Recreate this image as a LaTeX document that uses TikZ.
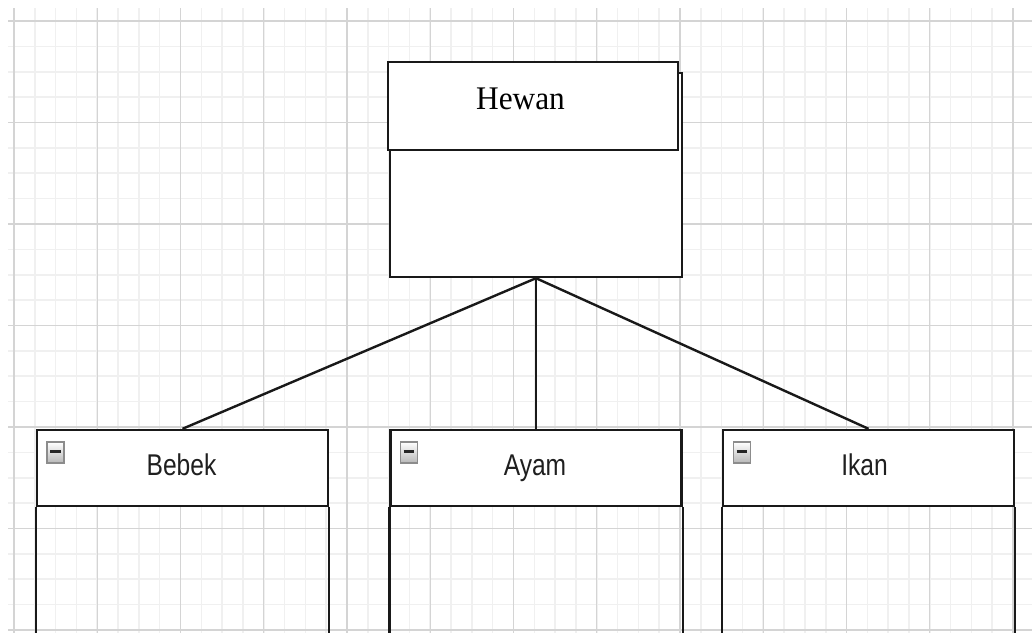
\documentclass[tikz,border=0pt]{standalone}
\usepackage{fontspec}
\usepackage{graphicx}
\setmainfont{Liberation Serif}
\newfontfamily\arialfont{Liberation Sans}
\begin{document}
\begin{tikzpicture}[x=0.5pt,y=-0.5pt,
  minorgrid/.style={draw=black!6, line width=0.8pt},
  majorgrid/.style={draw=black!17, line width=0.7pt},
  boxline/.style={draw=black!90, line width=1.2pt},
  header/.style={boxline, fill=white, inner sep=0pt, minimum width=145.5pt, minimum height=38pt},
  link/.style={draw=black!90, line width=1.2pt},
  lbl/.style={font=\arialfont\fontsize{15}{18}\selectfont, text=black!88, anchor=base, inner sep=0pt},
  icon/.style={draw=black!45, line width=0.6pt, top color=white, bottom color=black!28,
    minimum width=8.5pt, minimum height=10.5pt, inner sep=0pt,
    path picture={\draw[line width=1.5pt, black!85]
      ([xshift=1.6pt,yshift=0.4pt]path picture bounding box.west) --
      ([xshift=-1.6pt,yshift=0.4pt]path picture bounding box.east);}}
]
\useasboundingbox (0,0) rectangle (1032,633);
\fill[white] (0,0) rectangle (1032,633);
\coordinate (bottom) at (0,633);
% grid
\begin{scope}
  \clip (8,8) rectangle (1032,633);
  \foreach \i in {0,...,48} \draw[minorgrid] ({14+20.8125*\i},8) -- ++(0,625);
  \foreach \j in {0,...,24} \draw[minorgrid] (8,{21+25.375*\j}) -- ++(1024,0);
  \foreach \i in {0,...,12} \draw[majorgrid] ({14+83.25*\i},8) -- ++(0,625);
  \foreach \j in {0,...,6} \draw[majorgrid] (8,{21+101.5*\j}) -- ++(1024,0);
\end{scope}
% Hewan class
\node[boxline, fill=white, inner sep=0pt, minimum width=146pt, minimum height=102pt] (hewanbody) at (536,175) {};
\node[boxline, fill=white, inner sep=0pt, minimum width=145pt, minimum height=44pt] (hewantitle) at (533,106) {};
\node[font=\fontsize{16.5}{20}\selectfont, anchor=base, inner sep=0pt] (hewanlabel) at (520.5,109) {\scalebox{0.95}[1]{Hewan}};
% child classes
\node[header] (bebek) at (182.5,468) {};
\node[header] (ayam) at (536,468) {};
\node[header] (ikan) at (868.5,468) {};
\foreach \n in {bebek,ayam,ikan}{
  \draw[boxline] (\n.south west) -- (\n.south west |- bottom);
  \draw[boxline] (\n.south east) -- (\n.south east |- bottom);
}
\node[icon] (bebekicon) at (55.5,452.5) {};
\node[icon] (ayamicon) at (409,452.5) {};
\node[icon] (ikanicon) at (742,452.5) {};
\node[lbl] (bebeklabel) at (181.5,475) {\scalebox{0.82}[1]{Bebek}};
\node[lbl] (ayamlabel) at (535,475) {\scalebox{0.82}[1]{Ayam}};
\node[lbl] (ikanlabel) at (864.5,475) {\scalebox{0.82}[1]{Ikan}};
% connectors
\draw[link] (hewanbody.south) -- (bebek.north);
\draw[link] (hewanbody.south) -- (ayam.north);
\draw[link] (hewanbody.south) -- (ikan.north);
\end{tikzpicture}
\end{document}
